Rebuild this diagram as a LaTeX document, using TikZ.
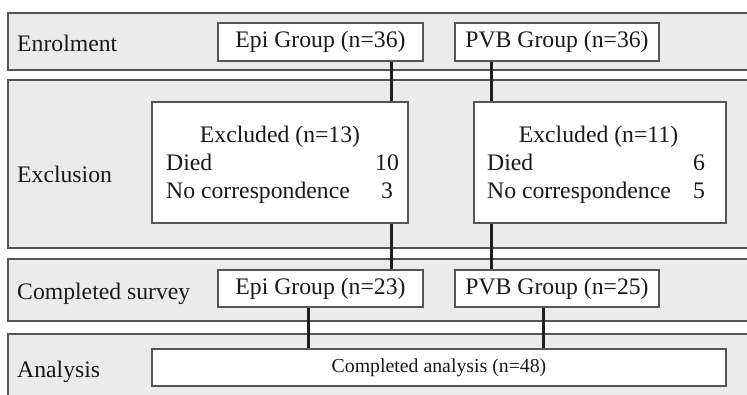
\documentclass[tikz,border=0pt]{standalone}
\usepackage{fontspec}
\setmainfont{Liberation Serif}
\definecolor{bandgray}{HTML}{EBEBEB}
\definecolor{linegray}{HTML}{555555}
\begin{document}
\begin{tikzpicture}[x=1pt,y=-1pt,
  band/.style={fill=bandgray,draw=linegray,line width=1.4pt},
  box/.style={draw=linegray,fill=white,line width=1.1pt,inner sep=0pt,
    font=\fontsize{23.7}{28}\selectfont,text=black!90},
  lbl/.style={anchor=base west,inner sep=0pt,font=\fontsize{23.7}{28}\selectfont,text=black!90},
  txt/.style={inner sep=0pt,font=\fontsize{23.7}{28}\selectfont,text=black!90},
  conn/.style={line width=3pt,draw=black!88}]
\useasboundingbox (0,0) rectangle (747,395);
\clip (0,0) rectangle (747,395);
% bands
\draw[band] (8,13) rectangle (760,70);
\draw[band] (8,80) rectangle (760,248);
\draw[band] (8,259) rectangle (760,321);
\draw[band] (8,334) rectangle (760,410);
% row labels
\node[lbl] (l1) at (17,52) {Enrolment};
\node[lbl] (l2) at (17,183) {Exclusion};
\node[lbl] (l3) at (17,300) {Completed survey};
\node[lbl] (l4) at (17,377) {Analysis};
% boxes
\node[box,minimum width=205,minimum height=38] (epiA) at (320.5,42) {Epi Group (n=36)};
\node[box,minimum width=204,minimum height=38] (pvbA) at (557,42) {PVB Group (n=36)};
\node[box,minimum width=256,minimum height=121] (exL) at (280,162.5) {};
\node[box,minimum width=252,minimum height=121] (exR) at (600,162.5) {};
\node[box,minimum width=205,minimum height=37] (epiB) at (320.5,288.5) {Epi Group (n=23)};
\node[box,minimum width=204,minimum height=37] (pvbB) at (557,288.5) {PVB Group (n=25)};
\node[box,minimum width=574,minimum height=37,font=\fontsize{19.8}{24}\selectfont] (ana) at (439,367.5) {Completed analysis (n=48)};
% excluded texts
\node[txt,anchor=base] (exLt) at (280,143) {Excluded (n=13)};
\node[txt,anchor=base west] (exLd) at (166,171) {Died};
\node[txt,anchor=base west] (exLn) at (166,199) {No correspondence};
\node[txt,anchor=base] (exLd2) at (387,171) {10};
\node[txt,anchor=base] (exLn2) at (387,199) {3};
\node[txt,anchor=base] (exRt) at (598.5,143) {Excluded (n=11)};
\node[txt,anchor=base west] (exRd) at (487,171) {Died};
\node[txt,anchor=base west] (exRn) at (487,199) {No correspondence};
\node[txt,anchor=base] (exRd2) at (699,171) {6};
\node[txt,anchor=base] (exRn2) at (699,199) {5};
% connectors
\draw[conn] ([xshift=70.5]epiA.south) -- ([xshift=70.5]epiA.south |- exL.north);
\draw[conn] ([xshift=-66]pvbA.south) -- ([xshift=-66]pvbA.south |- exR.north);
\draw[conn] ([xshift=111]exL.south) -- ([xshift=111]exL.south |- epiB.north);
\draw[conn] ([xshift=-109]exR.south) -- ([xshift=-109]exR.south |- pvbB.north);
\draw[conn] ([xshift=-12.5]epiB.south) -- ([xshift=-12.5]epiB.south |- ana.north);
\draw[conn] ([xshift=-14]pvbB.south) -- ([xshift=-14]pvbB.south |- ana.north);
\end{tikzpicture}
\end{document}
